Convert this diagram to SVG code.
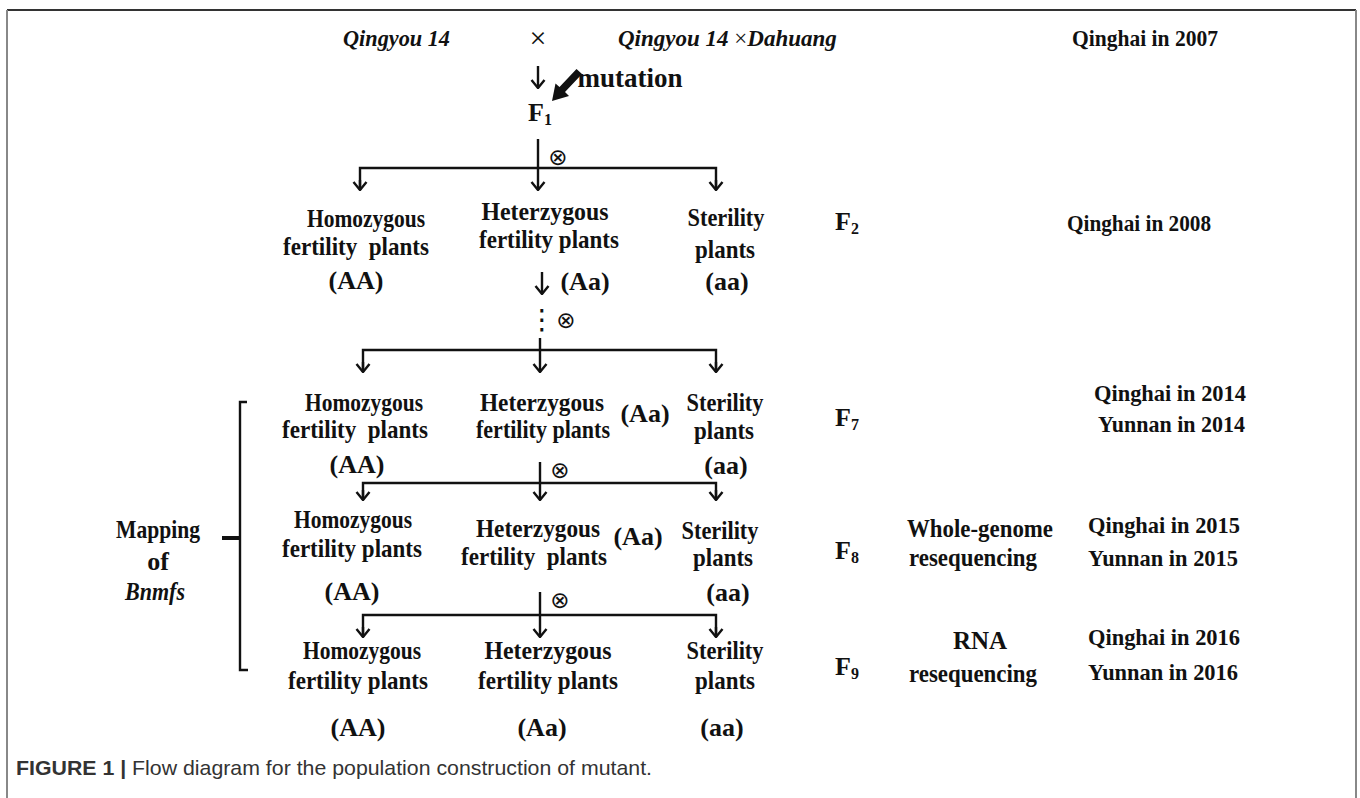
<svg xmlns="http://www.w3.org/2000/svg" width="1360" height="798" viewBox="0 0 1360 798">
<defs>
<style>
.t{font-family:"Liberation Serif","Times New Roman",serif;font-weight:bold;font-size:26px;fill:#111;text-anchor:middle}
.ti{font-family:"Liberation Serif","Times New Roman",serif;font-weight:bold;font-style:italic;font-size:23px;fill:#111}
.r{font-family:"Liberation Serif","Times New Roman",serif;font-weight:bold;font-size:24px;fill:#111}
.sub{font-size:16px}
.sym{font-family:"DejaVu Sans",sans-serif;font-size:23px;fill:#111;text-anchor:middle}
.ln{stroke:#111;stroke-width:2.4;fill:none}
.cap{font-family:"Liberation Sans",Arial,sans-serif;font-size:21px;fill:#333}
</style>
<marker id="ah" markerUnits="userSpaceOnUse" markerWidth="16" markerHeight="16" viewBox="0 0 16 16" refX="15" refY="8" orient="auto">
<path d="M7,1.5 L15,8 L7,14.5" fill="none" stroke="#111" stroke-width="2.4"/>
</marker>
</defs>
<rect width="1360" height="798" fill="#fff"/>
<g id="frame">
<line x1="7" y1="10" x2="1356" y2="10" stroke="#333" stroke-width="2"/>
<line x1="7" y1="10" x2="7" y2="798" stroke="#888" stroke-width="2"/>
<line x1="1356" y1="10" x2="1356" y2="798" stroke="#888" stroke-width="2"/>
</g>
<g id="connectors">
<line class="ln" x1="538" y1="66" x2="538" y2="88" marker-end="url(#ah)"/>
<polygon points="552,101 569,96 565,92 582,74 576.5,69 559.5,87 555.5,83.5" fill="#111"/>
<line class="ln" x1="538" y1="139" x2="538" y2="190" marker-end="url(#ah)"/>
<polyline class="ln" points="360,190 360,168 716,168 716,190"/>
<line class="ln" x1="360" y1="180" x2="360" y2="190" marker-end="url(#ah)"/>
<line class="ln" x1="716" y1="180" x2="716" y2="190" marker-end="url(#ah)"/>
<line class="ln" x1="542" y1="272" x2="542" y2="294" marker-end="url(#ah)"/>
<line class="ln" x1="540" y1="338" x2="540" y2="372" marker-end="url(#ah)"/>
<polyline class="ln" points="363,372 363,350 716,350 716,372"/>
<line class="ln" x1="363" y1="362" x2="363" y2="372" marker-end="url(#ah)"/>
<line class="ln" x1="716" y1="362" x2="716" y2="372" marker-end="url(#ah)"/>
<line class="ln" x1="540" y1="462" x2="540" y2="500" marker-end="url(#ah)"/>
<polyline class="ln" points="363,500 363,483 716,483 716,500"/>
<line class="ln" x1="363" y1="490" x2="363" y2="500" marker-end="url(#ah)"/>
<line class="ln" x1="716" y1="490" x2="716" y2="500" marker-end="url(#ah)"/>
<line class="ln" x1="540" y1="592" x2="540" y2="637" marker-end="url(#ah)"/>
<polyline class="ln" points="363,637 363,615 716,615 716,637"/>
<line class="ln" x1="363" y1="627" x2="363" y2="637" marker-end="url(#ah)"/>
<line class="ln" x1="716" y1="627" x2="716" y2="637" marker-end="url(#ah)"/>
<text class="sym" x="558" y="165">⊗</text>
<text class="sym" x="542" y="329" style="font-size:28px">⋮</text>
<text class="sym" x="566" y="328">⊗</text>
<text class="sym" x="560" y="478">⊗</text>
<text class="sym" x="560" y="608">⊗</text>
</g>
<g id="bracket">
<path class="ln" d="M247,402 L240,402 L240,670 L248,670"/>
<line x1="222" y1="538" x2="240" y2="538" stroke="#111" stroke-width="4"/>
</g>
<g id="n-parents">
<text class="ti" x="343" y="46" textLength="107" lengthAdjust="spacingAndGlyphs">Qingyou 14</text>
<text x="538" y="48" style="font-family:'Liberation Serif',serif;font-size:30px;fill:#111;text-anchor:middle">×</text>
<text class="ti" x="618" y="46">Qingyou 14 <tspan style="font-style:normal;font-weight:normal">×</tspan>Dahuang</text>
<text class="r" x="1072" y="46" textLength="146" lengthAdjust="spacingAndGlyphs">Qinghai in 2007</text>
</g>
<g id="n-mutation"><text class="t" x="630" y="87" style="font-size:28px" textLength="105" lengthAdjust="spacingAndGlyphs">mutation</text></g>
<g id="n-f1"><text class="t" x="540" y="121">F<tspan class="sub" dy="4">1</tspan></text></g>
<g id="n-f2-homo">
<text class="t" x="366" y="227" textLength="118" lengthAdjust="spacingAndGlyphs">Homozygous</text>
<text class="t" x="356" y="255" textLength="146" lengthAdjust="spacingAndGlyphs" xml:space="preserve">fertility  plants</text>
<text class="t" x="356" y="289">(AA)</text>
</g>
<g id="n-f2-het">
<text class="t" x="545" y="220" textLength="127" lengthAdjust="spacingAndGlyphs">Heterzygous</text>
<text class="t" x="549" y="248" textLength="140" lengthAdjust="spacingAndGlyphs">fertility plants</text>
<text class="t" x="585" y="290">(Aa)</text>
</g>
<g id="n-f2-ster">
<text class="t" x="726" y="226" textLength="77" lengthAdjust="spacingAndGlyphs">Sterility</text>
<text class="t" x="725" y="258" textLength="60" lengthAdjust="spacingAndGlyphs">plants</text>
<text class="t" x="727" y="290">(aa)</text>
</g>
<g id="n-f2-gen">
<text class="t" x="847" y="230">F<tspan class="sub" dy="4">2</tspan></text>
<text class="r" x="1067" y="231" textLength="144" lengthAdjust="spacingAndGlyphs">Qinghai in 2008</text>
</g>
<g id="n-f7-homo">
<text class="t" x="364" y="411" textLength="118" lengthAdjust="spacingAndGlyphs">Homozygous</text>
<text class="t" x="355" y="438" textLength="146" lengthAdjust="spacingAndGlyphs" xml:space="preserve">fertility  plants</text>
<text class="t" x="357" y="473">(AA)</text>
</g>
<g id="n-f7-het">
<text class="t" x="542" y="411" textLength="124" lengthAdjust="spacingAndGlyphs">Heterzygous</text>
<text class="t" x="543" y="438" style="font-size:24.5px" textLength="134" lengthAdjust="spacingAndGlyphs">fertility plants</text>
<text class="t" x="645" y="422">(Aa)</text>
</g>
<g id="n-f7-ster">
<text class="t" x="725" y="411" textLength="77" lengthAdjust="spacingAndGlyphs">Sterility</text>
<text class="t" x="724" y="439" textLength="60" lengthAdjust="spacingAndGlyphs">plants</text>
<text class="t" x="726" y="474">(aa)</text>
</g>
<g id="n-f7-gen">
<text class="t" x="847" y="426">F<tspan class="sub" dy="4">7</tspan></text>
<text class="r" x="1094" y="401" textLength="152" lengthAdjust="spacingAndGlyphs">Qinghai in 2014</text>
<text class="r" x="1098" y="432" textLength="147" lengthAdjust="spacingAndGlyphs">Yunnan in 2014</text>
</g>
<g id="n-f8-homo">
<text class="t" x="353" y="528" textLength="118" lengthAdjust="spacingAndGlyphs">Homozygous</text>
<text class="t" x="352" y="557" textLength="140" lengthAdjust="spacingAndGlyphs">fertility plants</text>
<text class="t" x="352" y="600">(AA)</text>
</g>
<g id="n-f8-het">
<text class="t" x="538" y="537" textLength="124" lengthAdjust="spacingAndGlyphs">Heterzygous</text>
<text class="t" x="534" y="565" textLength="146" lengthAdjust="spacingAndGlyphs" xml:space="preserve">fertility  plants</text>
<text class="t" x="638" y="545">(Aa)</text>
</g>
<g id="n-f8-ster">
<text class="t" x="720" y="539" textLength="77" lengthAdjust="spacingAndGlyphs">Sterility</text>
<text class="t" x="723" y="566" textLength="60" lengthAdjust="spacingAndGlyphs">plants</text>
<text class="t" x="728" y="601">(aa)</text>
</g>
<g id="n-f8-gen">
<text class="t" x="847" y="559">F<tspan class="sub" dy="4">8</tspan></text>
<text class="t" x="980" y="537" style="font-size:25px" textLength="146" lengthAdjust="spacingAndGlyphs">Whole-genome</text>
<text class="t" x="973" y="566" style="font-size:25px" textLength="128" lengthAdjust="spacingAndGlyphs">resequencing</text>
<text class="r" x="1088" y="533" textLength="152" lengthAdjust="spacingAndGlyphs">Qinghai in 2015</text>
<text class="r" x="1088" y="566" textLength="150" lengthAdjust="spacingAndGlyphs">Yunnan in 2015</text>
</g>
<g id="n-f9-homo">
<text class="t" x="362" y="659" textLength="118" lengthAdjust="spacingAndGlyphs">Homozygous</text>
<text class="t" x="358" y="689" textLength="140" lengthAdjust="spacingAndGlyphs">fertility plants</text>
<text class="t" x="358" y="736">(AA)</text>
</g>
<g id="n-f9-het">
<text class="t" x="548" y="659" textLength="127" lengthAdjust="spacingAndGlyphs">Heterzygous</text>
<text class="t" x="548" y="689" textLength="140" lengthAdjust="spacingAndGlyphs">fertility plants</text>
<text class="t" x="542" y="736">(Aa)</text>
</g>
<g id="n-f9-ster">
<text class="t" x="725" y="659" textLength="77" lengthAdjust="spacingAndGlyphs">Sterility</text>
<text class="t" x="725" y="689" textLength="60" lengthAdjust="spacingAndGlyphs">plants</text>
<text class="t" x="722" y="736">(aa)</text>
</g>
<g id="n-f9-gen">
<text class="t" x="847" y="675">F<tspan class="sub" dy="4">9</tspan></text>
<text class="t" x="980" y="649" style="font-size:25px">RNA</text>
<text class="t" x="973" y="682" style="font-size:25px" textLength="128" lengthAdjust="spacingAndGlyphs">resequencing</text>
<text class="r" x="1088" y="645" textLength="152" lengthAdjust="spacingAndGlyphs">Qinghai in 2016</text>
<text class="r" x="1088" y="680" textLength="150" lengthAdjust="spacingAndGlyphs">Yunnan in 2016</text>
</g>
<g id="n-mapping">
<text class="t" x="158" y="538" textLength="84" lengthAdjust="spacingAndGlyphs">Mapping</text>
<text class="t" x="158" y="570">of</text>
<text class="t" x="155" y="600" style="font-style:italic" textLength="60" lengthAdjust="spacingAndGlyphs">Bnmfs</text>
</g>
<g id="caption">
<text class="cap" x="16" y="775" textLength="636" lengthAdjust="spacingAndGlyphs"><tspan font-weight="bold">FIGURE 1 |</tspan> Flow diagram for the population construction of mutant.</text>
</g>
</svg>
